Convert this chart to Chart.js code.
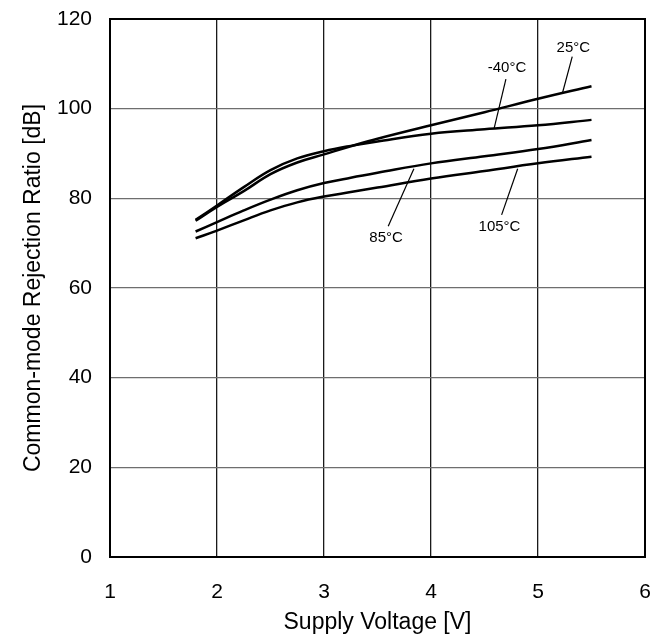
<!DOCTYPE html>
<html>
<head>
<meta charset="utf-8">
<script src="https://cdn.jsdelivr.net/npm/chart.js@4/dist/chart.umd.min.js"></script>
<style>
  body { margin: 0; background: #fff; }
  canvas { display: block; }
</style>
</head>
<body>
<canvas id="grafica" width="660" height="639"></canvas>
<script>
// supply voltage [V]
const voltaje = [1.8, 2, 2.25, 2.5, 2.75, 3, 3.25, 3.5, 4, 4.5, 5, 5.5];
// CMRR [dB] per temperature
const cmrrMenos40 = [75.2, 78.4, 82.5, 86.3, 88.9, 90.5, 91.7, 92.7, 94.4, 95.4, 96.3, 97.5];
const cmrr25 = [75.0, 78.1, 81.6, 85.4, 88.0, 89.8, 91.6, 93.3, 96.3, 99.2, 102.2, 105.0];
const cmrr85 = [72.6, 74.7, 77.3, 79.7, 81.8, 83.4, 84.6, 85.7, 87.8, 89.4, 91.0, 93.0];
const cmrr105 = [71.1, 72.8, 75.1, 77.3, 79.1, 80.4, 81.4, 82.4, 84.4, 86.1, 87.8, 89.3];

const series = ["-40°C", "25°C", "85°C", "105°C"];
const valores = [cmrrMenos40, cmrr25, cmrr85, cmrr105];

// label text spot and leader line (data units)
const etiquetas = [
    { text: "25°C", x: 5.33, y: 113.6, from: [5.32, 111.6], to: [5.23, 103.6] },
    { text: "-40°C", x: 4.71, y: 109.1, from: [4.70, 106.6], to: [4.59, 95.6] },
    { text: "85°C", x: 3.58, y: 71.1, from: [3.60, 73.8], to: [3.84, 86.6] },
    { text: "105°C", x: 4.64, y: 73.7, from: [4.66, 76.3], to: [4.81, 86.6] }
];

const fuente = "'Liberation Sans', Arial, sans-serif";

const datasets = series.map((nombre, i) => ({
    label: nombre,
    data: voltaje.map((v, j) => ({ x: v, y: valores[i][j] })),
    borderColor: "#000",
    borderWidth: 2.5,
    pointRadius: 0,
    fill: false,
    tension: 0.4
}));

const marcoYEtiquetas = {
    id: "marcoYEtiquetas",
    afterDatasetsDraw(chart) {
        const { ctx, chartArea, scales } = chart;
        ctx.save();
        ctx.strokeStyle = "#000";
        ctx.lineWidth = 2;
        ctx.strokeRect(chartArea.left, chartArea.top, chartArea.right - chartArea.left, chartArea.bottom - chartArea.top);

        ctx.lineWidth = 1.2;
        ctx.fillStyle = "#000";
        ctx.font = "15px " + fuente;
        ctx.textAlign = "center";
        ctx.textBaseline = "middle";
        for (const e of etiquetas) {
            ctx.beginPath();
            ctx.moveTo(scales.x.getPixelForValue(e.from[0]), scales.y.getPixelForValue(e.from[1]));
            ctx.lineTo(scales.x.getPixelForValue(e.to[0]), scales.y.getPixelForValue(e.to[1]));
            ctx.stroke();
            ctx.fillText(e.text, scales.x.getPixelForValue(e.x), scales.y.getPixelForValue(e.y));
        }
        ctx.restore();
    }
};

new Chart(document.getElementById("grafica"), {
    type: "line",
    data: { datasets: datasets },
    options: {
        responsive: false,
        animation: false,
        layout: { padding: { top: 19, right: 15, left: 0, bottom: 0 } },
        plugins: { legend: { display: false }, tooltip: { enabled: false } },
        scales: {
            x: {
                type: "linear",
                min: 1,
                max: 6,
                afterFit: s => { s.height = 82; s.paddingLeft = 0; s.paddingRight = 0; },
                ticks: { stepSize: 1, color: "#000", padding: 23, font: { family: fuente, size: 21 } },
                grid: { color: "#1a1a1a", lineWidth: 1.3, drawTicks: false },
                border: { display: false },
                title: { display: true, text: "Supply Voltage [V]", color: "#000", padding: { top: 0, bottom: 3 }, font: { family: fuente, size: 23 } }
            },
            y: {
                min: 0,
                max: 120,
                afterFit: s => { s.width = 110; s.paddingTop = 0; s.paddingBottom = 0; },
                ticks: { stepSize: 20, color: "#000", padding: 18, font: { family: fuente, size: 21 } },
                grid: { color: "#6e6e6e", lineWidth: 1.3, drawTicks: false },
                border: { display: false },
                title: { display: true, text: "Common-mode Rejection Ratio [dB]", color: "#000", padding: { top: 20, bottom: 0 }, font: { family: fuente, size: 23 } }
            }
        }
    },
    plugins: [marcoYEtiquetas]
});
</script>
</body>
</html>
